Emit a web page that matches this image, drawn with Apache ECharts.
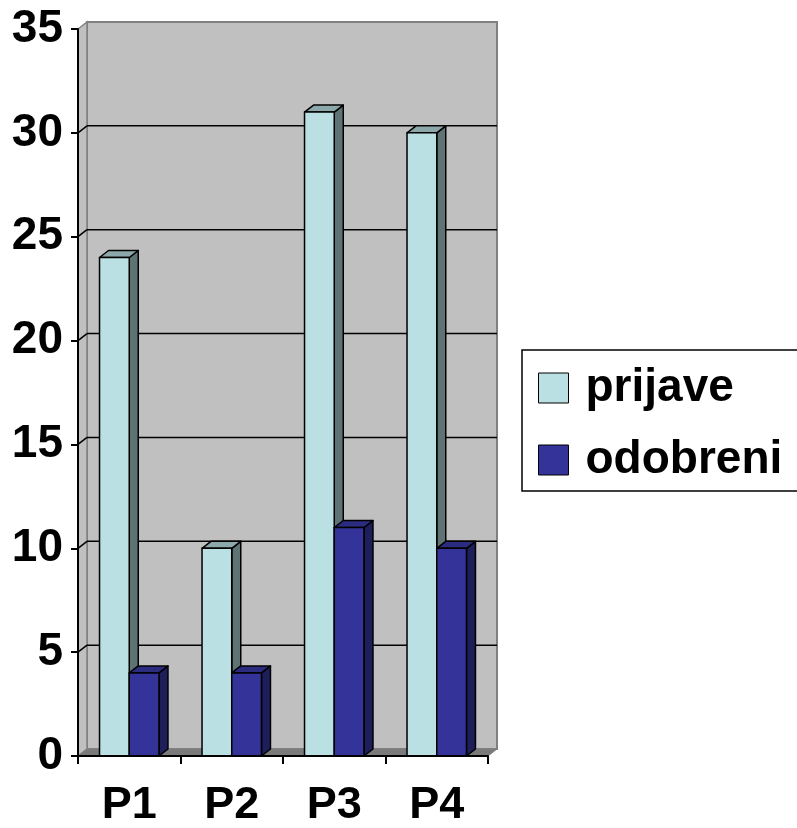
<!DOCTYPE html>
<html>
<head>
<meta charset="utf-8">
<script src="https://cdn.jsdelivr.net/npm/echarts@6/dist/echarts.min.js"></script>
<style>
  html, body { margin: 0; padding: 0; background: #fff; }
  #chart { width: 797px; height: 828px; }
</style>
</head>
<body>
<div id="chart"></div>
<script>
const categories = ["P1", "P2", "P3", "P4"];
const prijave = [24, 10, 31, 30];
const odobreni = [4, 4, 11, 10];
const yTicks = [0, 5, 10, 15, 20, 25, 30, 35];

// depth of the fake 3D box
const DX = 9;
const DY = -7;
const FONT = "'Liberation Sans', Arial, sans-serif";

const chart = echarts.init(document.getElementById("chart"));

// back wall, left wall, floor and gridlines
function renderWalls(params, api) {
  const cs = params.coordSys;
  const x0 = cs.x, x1 = cs.x + cs.width;
  const y0 = cs.y, y1 = cs.y + cs.height;
  const children = [
    {
      type: "rect",
      shape: { x: x0 + DX, y: y0 + DY, width: cs.width, height: cs.height },
      style: { fill: "#c0c0c0", stroke: "#808080", lineWidth: 2 },
    },
    {
      type: "polygon",
      shape: { points: [[x0, y0], [x0 + DX, y0 + DY], [x0 + DX, y1 + DY], [x0, y1]] },
      style: { fill: "#c0c0c0", stroke: "#808080", lineWidth: 1.5 },
    },
    {
      type: "polygon",
      shape: { points: [[x0, y1], [x1, y1], [x1 + DX, y1 + DY], [x0 + DX, y1 + DY]] },
      style: { fill: "#7a7a7a", stroke: "#808080", lineWidth: 1 },
    },
  ];
  yTicks.forEach((v) => {
    if (v === 0 || v === yTicks[yTicks.length - 1]) return;
    const y = api.coord([0, v])[1];
    children.push({
      type: "line",
      shape: { x1: x0 + DX, y1: y + DY, x2: x1 + DX, y2: y + DY },
      style: { stroke: "#000", lineWidth: 1.5 },
    });
    children.push({
      type: "line",
      shape: { x1: x0, y1: y, x2: x0 + DX, y2: y + DY },
      style: { stroke: "#000", lineWidth: 1.5 },
    });
  });
  return { type: "group", children };
}

function barRenderer(offset, front, side, top) {
  return function (params, api) {
    const idx = api.value(0);
    const c = api.coord([idx, api.value(1)]);
    const base = api.coord([idx, 0]);
    const w = api.size([1, 0])[0] * 0.29;
    const left = c[0] + offset * w;
    const right = left + w;
    const line = { stroke: "#000", lineWidth: 1.5, lineJoin: "round" };
    return {
      type: "group",
      children: [
        {
          type: "polygon",
          shape: { points: [[right, c[1]], [right + DX, c[1] + DY], [right + DX, base[1] + DY], [right, base[1]]] },
          style: Object.assign({ fill: side }, line),
        },
        {
          type: "polygon",
          shape: { points: [[left, c[1]], [left + DX, c[1] + DY], [right + DX, c[1] + DY], [right, c[1]]] },
          style: Object.assign({ fill: top }, line),
        },
        {
          type: "rect",
          shape: { x: left, y: c[1], width: w, height: base[1] - c[1] },
          style: Object.assign({ fill: front }, line),
        },
      ],
    };
  };
}

const option = {
  animation: false,
  backgroundColor: "#fff",
  grid: { left: 78, right: 309, top: 29, bottom: 66 },
  // legend frame runs off the right edge like in the original
  graphic: [
    {
      type: "rect",
      shape: { x: 522, y: 350, width: 320, height: 141 },
      style: { fill: "#fff", stroke: "#000", lineWidth: 1.5 },
      z: 0,
    },
  ],
  legend: {
    left: 522,
    top: 350,
    orient: "vertical",
    icon: "rect",
    itemWidth: 30,
    itemHeight: 30,
    itemGap: 22,
    padding: [13, 0, 6, 16],
    itemStyle: { borderColor: "#000", borderWidth: 1 },
    textStyle: { fontSize: 46, fontWeight: "bold", color: "#000", fontFamily: FONT, lineHeight: 50, padding: [0, 0, 0, 12] },
    data: [
      { name: "prijave", itemStyle: { color: "#bbe0e3" } },
      { name: "odobreni", itemStyle: { color: "#333399" } },
    ],
  },
  xAxis: {
    type: "category",
    data: categories,
    z: 3,
    axisLine: { lineStyle: { color: "#000", width: 2 } },
    axisTick: { show: true, alignWithLabel: false, length: 8, lineStyle: { color: "#000", width: 2 } },
    axisLabel: { fontSize: 45, fontWeight: "bold", color: "#000", fontFamily: FONT, margin: 27 },
    splitLine: { show: false },
  },
  yAxis: {
    type: "value",
    min: 0,
    max: 35,
    interval: 5,
    z: 3,
    axisLine: { show: true, lineStyle: { color: "#000", width: 2 } },
    axisTick: { show: true, length: 7, lineStyle: { color: "#000", width: 2 } },
    axisLabel: { fontSize: 46, fontWeight: "bold", color: "#000", fontFamily: FONT, margin: 15 },
    splitLine: { show: false },
  },
  series: [
    {
      name: "walls",
      type: "custom",
      z: 1,
      silent: true,
      renderItem: renderWalls,
      data: [[0, 0]],
    },
    {
      name: "prijave",
      type: "custom",
      z: 2,
      itemStyle: { color: "#bbe0e3" },
      renderItem: barRenderer(-1, "#bbe0e3", "#5f7375", "#8da8aa"),
      data: prijave.map((v, i) => [i, v]),
    },
    {
      name: "odobreni",
      type: "custom",
      z: 2,
      itemStyle: { color: "#333399" },
      renderItem: barRenderer(0, "#333399", "#1e1e5a", "#2b2b80"),
      data: odobreni.map((v, i) => [i, v]),
    },
  ],
};

chart.setOption(option);
</script>
</body>
</html>
